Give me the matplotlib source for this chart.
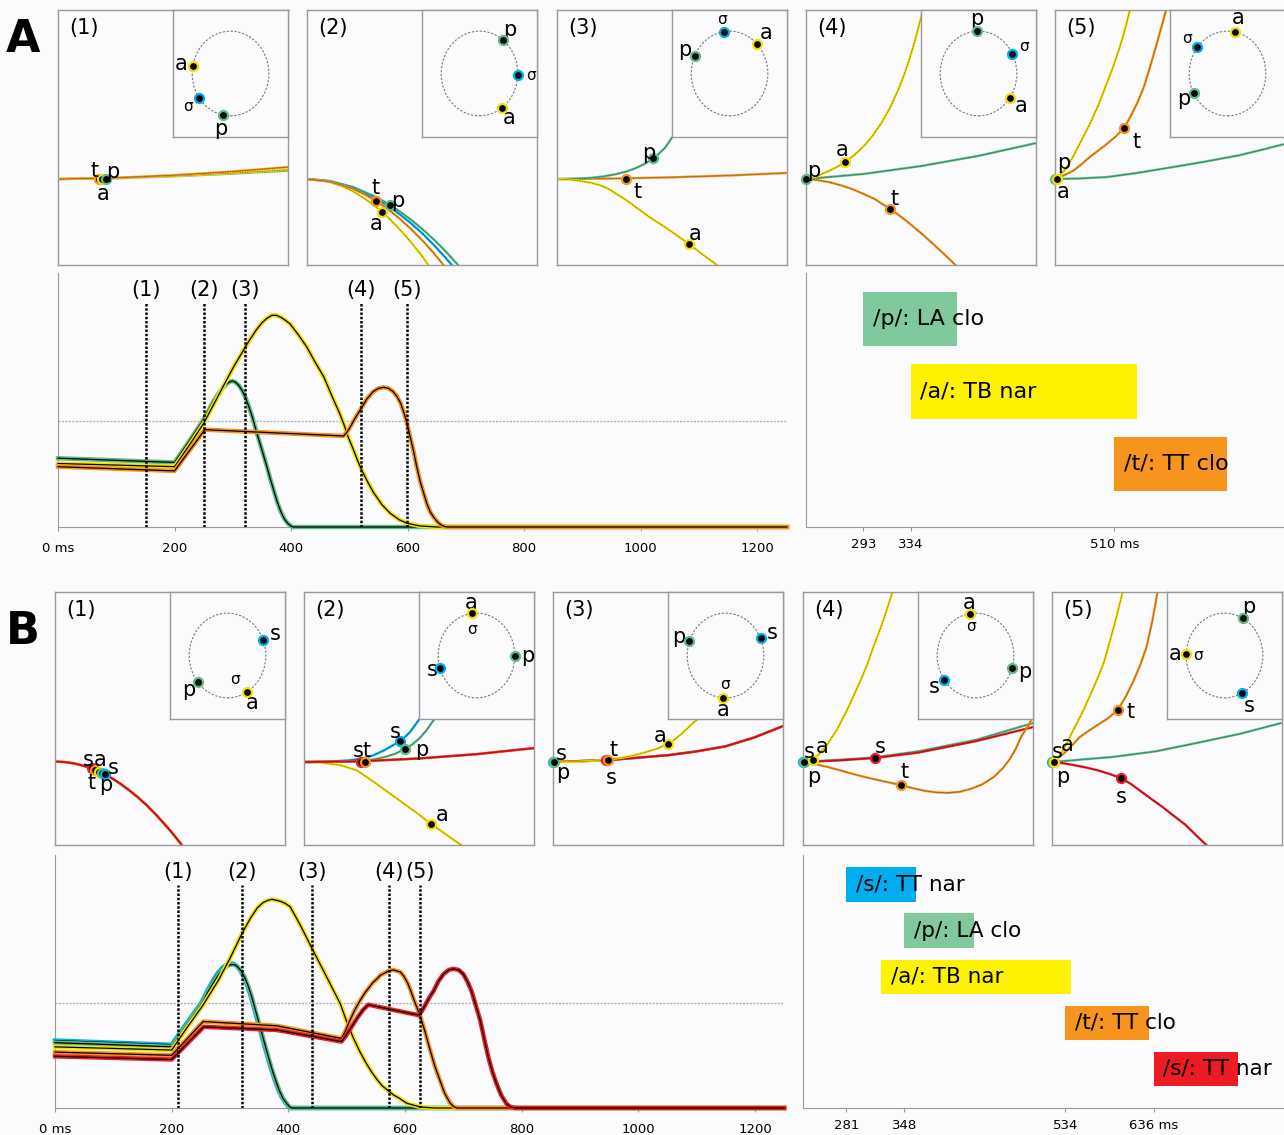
import matplotlib
matplotlib.use("Agg")
import matplotlib.pyplot as plt
import numpy as np
from matplotlib.patches import Circle

# ── Colours ──────────────────────────────────────────────────────
BG = "#fbfbfd"
EDGE = "#9a9a9a"
COL = {"p": "#5dbb88", "a": "#f2e000", "t": "#f7941d",
       "s1": "#00aeef", "s2": "#ed1c24", "sig": "#00aeef"}
BAR_COL = {"p": "#80c99d", "a": "#fff200", "t": "#f7941d",
           "s1": "#00aeef", "s2": "#ed1c24"}

# ── Activation traces (ms, activation) ───────────────────────────
ACT_TICKS = [0, 200, 400, 600, 800, 1000, 1200]
ACT_TICK_LABELS = ["0 ms", "200", "400", "600", "800", "1000", "1200"]
THRESH = 1.0

A_SNAPS = [151, 251, 321, 520, 599]
A_T_P = [0, 200, 225, 248, 258, 267, 275, 282, 289, 294, 299, 304, 310, 316, 322, 328, 334, 340, 346,
         352, 358, 364, 370, 376, 382, 388, 394, 400, 404, 1251]
A_V_P = [0.65, 0.61, 0.81, 1.00, 1.10, 1.19, 1.26, 1.31, 1.35, 1.37, 1.38, 1.37, 1.34, 1.29, 1.22, 1.13, 1.03, 0.91, 0.80,
         0.69, 0.58, 0.46, 0.35, 0.24, 0.15, 0.08, 0.035, 0.008, 0.0, 0.0]
A_T_A = [0, 200, 225, 250, 275, 300, 315, 328, 340, 350, 358, 367, 375, 383, 391, 398, 412, 427, 441, 456, 473,
         482, 490, 498, 507, 514, 521, 531, 541, 556, 570, 585, 599, 621, 650, 1251]
A_V_A = [0.60, 0.57, 0.77, 0.98, 1.24, 1.50, 1.64, 1.76, 1.86, 1.93, 1.97, 2.00, 2.00, 1.98, 1.95, 1.92, 1.82, 1.70, 1.56, 1.42, 1.20,
         1.09, 0.98, 0.85, 0.73, 0.63, 0.54, 0.43, 0.33, 0.21, 0.13, 0.07, 0.035, 0.01, 0.0, 0.0]
A_T_T = [0, 200, 252, 370, 490, 495, 500, 509, 518, 530, 541, 550, 559, 567, 575, 582, 588, 593, 598, 604, 610,
         616, 622, 628, 633, 639, 645, 651, 657, 663, 668, 1251]
A_V_T = [0.57, 0.53, 0.92, 0.89, 0.86, 0.89, 0.93, 1.02, 1.10, 1.21, 1.28, 1.31, 1.32, 1.31, 1.28, 1.23, 1.17, 1.09, 1.00, 0.86, 0.72,
         0.56, 0.42, 0.31, 0.22, 0.14, 0.09, 0.05, 0.02, 0.005, 0.0, 0.0]

B_SNAPS = [211, 321, 441, 572, 625]
B_T_S1 = [0, 200, 225, 251, 260, 270, 279, 287, 294, 300, 306, 311, 317, 323, 329, 335, 341, 347, 353, 359,
          365, 371, 377, 383, 389, 395, 400, 404, 1250]
B_V_S1 = [0.64, 0.60, 0.80, 1.00, 1.10, 1.20, 1.28, 1.33, 1.36, 1.37, 1.37, 1.35, 1.31, 1.25, 1.17, 1.07, 0.95, 0.83, 0.71, 0.59,
          0.47, 0.36, 0.26, 0.17, 0.10, 0.05, 0.015, 0.0, 0.0]
B_T_P = [0, 200, 225, 253, 262, 272, 281, 289, 296, 302, 308, 313, 319, 325, 331, 337, 343, 349, 355, 361,
         367, 373, 379, 385, 391, 397, 402, 406, 1250]
B_V_P = [0.62, 0.58, 0.78, 1.00, 1.10, 1.19, 1.27, 1.32, 1.35, 1.36, 1.36, 1.34, 1.30, 1.24, 1.16, 1.06, 0.94, 0.82, 0.70, 0.58,
         0.46, 0.35, 0.25, 0.16, 0.09, 0.045, 0.012, 0.0, 0.0]
B_T_A = [0, 200, 226, 253, 280, 300, 321, 335, 347, 357, 365, 372, 380, 387, 395, 403, 421, 440, 453, 466, 477,
         489, 500, 511, 523, 534, 543, 552, 561, 570, 580, 591, 603, 626, 650, 1250]
B_V_A = [0.58, 0.55, 0.76, 0.97, 1.21, 1.42, 1.66, 1.80, 1.90, 1.95, 1.97, 1.98, 1.97, 1.96, 1.94, 1.91, 1.73, 1.52, 1.38, 1.24, 1.12,
         0.99, 0.82, 0.67, 0.53, 0.42, 0.34, 0.27, 0.21, 0.17, 0.125, 0.09, 0.045, 0.01, 0.0, 0.0]
B_T_T = [0, 200, 254, 380, 491, 497, 503, 513, 523, 531, 538, 545, 551, 558, 565, 572, 580, 586, 592, 598, 605,
         610, 615, 620, 626, 634, 643, 651, 660, 668, 677, 683, 689, 1250]
B_V_T = [0.53, 0.50, 0.82, 0.78, 0.66, 0.72, 0.80, 0.92, 1.02, 1.09, 1.14, 1.19, 1.22, 1.26, 1.28, 1.30, 1.31, 1.30, 1.29, 1.25, 1.18,
         1.11, 1.03, 0.96, 0.87, 0.73, 0.55, 0.40, 0.26, 0.14, 0.05, 0.015, 0.0, 0.0]
B_T_S2 = [0, 200, 255, 380, 491, 498, 505, 513, 520, 528, 537, 580, 624, 630, 636, 642, 649, 657, 666, 675, 683,
          692, 700, 707, 714, 721, 729, 736, 743, 750, 757, 765, 774, 781, 789, 1250]
B_V_S2 = [0.49, 0.46, 0.77, 0.74, 0.63, 0.68, 0.74, 0.81, 0.87, 0.93, 0.98, 0.93, 0.88, 0.93, 0.99, 1.05, 1.11, 1.20, 1.27, 1.31, 1.32,
          1.31, 1.27, 1.20, 1.11, 0.98, 0.83, 0.65, 0.48, 0.34, 0.23, 0.12, 0.04, 0.01, 0.0, 0.0]

# ── Gestural scores (onset / offset in ms) ───────────────────────
A_BAR_KEYS = ["p", "a", "t"]
A_BAR_LABELS = ["/p/: LA clo", "/a/: TB nar", "/t/: TT clo"]
A_BAR_ON = [293, 334, 510]
A_BAR_OFF = [374, 530, 607]
A_BAR_TICKS = [293, 334, 510]
A_BAR_TICK_LABELS = ["293", "334", "510 ms"]

B_BAR_KEYS = ["s1", "p", "a", "t", "s2"]
B_BAR_LABELS = ["/s/: TT nar", "/p/: LA clo", "/a/: TB nar", "/t/: TT clo", "/s/: TT nar"]
B_BAR_ON = [281, 348, 321, 534, 636]
B_BAR_OFF = [362, 429, 540, 631, 733]
B_BAR_TICKS = [281, 348, 534, 636]
B_BAR_TICK_LABELS = ["281", "348", "534", "636 ms"]

# ── Snapshot panels: tract-variable trajectories (axes fraction) ─
A1_LINES = [("p", [0, 0.25, 0.5, 0.75, 1.0], [0.337, 0.340, 0.348, 0.358, 0.370]),
            ("a", [0, 0.25, 0.5, 0.75, 1.0], [0.337, 0.341, 0.349, 0.360, 0.373]),
            ("t", [0, 0.25, 0.5, 0.75, 1.0], [0.337, 0.342, 0.352, 0.366, 0.384])]
A1_DOTS = [("t", 0.178, 0.337), ("a", 0.191, 0.337), ("p", 0.209, 0.337)]
A1_TAGS = [("t", 0.16, 0.37), ("p", 0.24, 0.365), ("a", 0.196, 0.28)]
A1_PHASE = [("a", 170, "a", 1.3), ("sig", 215, "σ", 1.35), ("p", 259, "p", 1.33)]

A2_LINES = [("a", [0, 0.05, 0.1, 0.15, 0.2, 0.25, 0.3, 0.35, 0.4, 0.45, 0.5, 0.55, 0.6],
             [0.337, 0.334, 0.325, 0.310, 0.289, 0.261, 0.228, 0.189, 0.143, 0.092, 0.035, -0.03, -0.10]),
            ("p", [0, 0.1, 0.2, 0.3, 0.35, 0.4, 0.45, 0.5, 0.55, 0.6, 0.65, 0.7],
             [0.337, 0.329, 0.306, 0.267, 0.241, 0.212, 0.179, 0.142, 0.101, 0.056, 0.007, -0.045]),
            ("sig", [0, 0.1, 0.2, 0.3, 0.35, 0.4, 0.45, 0.5, 0.55, 0.6, 0.65, 0.7],
             [0.337, 0.329, 0.303, 0.260, 0.233, 0.201, 0.165, 0.125, 0.080, 0.031, -0.022, -0.08]),
            ("t", [0, 0.1, 0.2, 0.25, 0.3, 0.35, 0.4, 0.45, 0.5, 0.55, 0.6],
             [0.337, 0.327, 0.299, 0.277, 0.251, 0.220, 0.184, 0.143, 0.098, 0.048, -0.007])]
A2_DOTS = [("t", 0.30, 0.251), ("a", 0.326, 0.208), ("p", 0.361, 0.235)]
A2_TAGS = [("t", 0.30, 0.30), ("p", 0.395, 0.25), ("a", 0.30, 0.16)]
A2_PHASE = [("p", 52, "p", 1.3), ("sig", -2, "σ", 1.35), ("a", -54, "a", 1.3)]

A3_LINES = [("t", [0, 0.25, 0.5, 0.75, 1.0], [0.337, 0.339, 0.344, 0.351, 0.361]),
            ("p", [0, 0.1, 0.15, 0.2, 0.25, 0.3, 0.34, 0.38, 0.419, 0.44, 0.47, 0.5, 0.53, 0.56],
             [0.337, 0.339, 0.342, 0.347, 0.355, 0.366, 0.379, 0.396, 0.418, 0.434, 0.46, 0.50, 0.55, 0.61]),
            ("a", [0, 0.05, 0.1, 0.15, 0.19, 0.217, 0.26, 0.3, 0.35, 0.4, 0.45, 0.5, 0.574, 0.65, 0.696, 0.72],
             [0.337, 0.335, 0.33, 0.322, 0.312, 0.302, 0.278, 0.255, 0.222, 0.189, 0.16, 0.13, 0.082, 0.03, 0.0, -0.02])]
A3_DOTS = [("t", 0.30, 0.337), ("p", 0.419, 0.418), ("a", 0.574, 0.082)]
A3_TAGS = [("t", 0.35, 0.287), ("p", 0.397, 0.44), ("a", 0.60, 0.12)]
A3_PHASE = [("sig", 99, "σ", 1.3), ("a", 45, "a", 1.35), ("p", 155, "p", 1.3)]

A4_LINES = [("p", [0, 0.25, 0.5, 0.75, 1.0], [0.337, 0.357, 0.388, 0.428, 0.478]),
            ("t", [0, 0.05, 0.1, 0.15, 0.2, 0.25, 0.3, 0.365, 0.4, 0.45, 0.5, 0.55, 0.6, 0.65, 0.7],
             [0.337, 0.333, 0.325, 0.313, 0.298, 0.279, 0.258, 0.22, 0.198, 0.163, 0.125, 0.085, 0.043, 0.0, -0.045]),
            ("a", [0, 0.05, 0.1, 0.14, 0.17, 0.21, 0.25, 0.29, 0.33, 0.365, 0.4, 0.425, 0.45, 0.475, 0.5, 0.53],
             [0.337, 0.349, 0.369, 0.387, 0.404, 0.431, 0.465, 0.507, 0.56, 0.616, 0.685, 0.742, 0.808, 0.884, 0.97, 1.09])]
A4_DOTS = [("p", 0.0, 0.337), ("a", 0.17, 0.404), ("t", 0.365, 0.22)]
A4_TAGS = [("p", 0.035, 0.37), ("a", 0.157, 0.45), ("t", 0.387, 0.26)]
A4_PHASE = [("p", 92, "p", 1.3), ("sig", 28, "σ", 1.35), ("a", -35, "a", 1.35)]

A5_LINES = [("p", [0, 0.1, 0.226, 0.35, 0.513, 0.65, 0.8, 0.9, 1.0], [0.337, 0.339, 0.345, 0.36, 0.384, 0.405, 0.43, 0.452, 0.475]),
            ("t", [0, 0.04, 0.08, 0.115, 0.152, 0.19, 0.23, 0.265, 0.3, 0.33, 0.36, 0.387, 0.413, 0.44, 0.465, 0.483, 0.5],
             [0.337, 0.352, 0.37, 0.395, 0.424, 0.45, 0.478, 0.505, 0.537, 0.585, 0.64, 0.70, 0.776, 0.86, 0.94, 1.0, 1.06]),
            ("a", [0, 0.02, 0.04, 0.06, 0.078, 0.11, 0.15, 0.19, 0.226, 0.25, 0.28, 0.3, 0.326, 0.35],
             [0.337, 0.35, 0.37, 0.395, 0.424, 0.48, 0.55, 0.63, 0.714, 0.77, 0.85, 0.91, 1.0, 1.08])]
A5_DOTS = [("p", 0.0, 0.337), ("a", 0.008, 0.337), ("t", 0.30, 0.537)]
A5_TAGS = [("p", 0.036, 0.40), ("a", 0.036, 0.285), ("t", 0.355, 0.484)]
A5_PHASE = [("a", 78, "a", 1.35), ("sig", 142, "σ", 1.35), ("p", 208, "p", 1.3)]

B1_X = [0, 0.04, 0.08, 0.12, 0.16, 0.2, 0.24, 0.28, 0.32, 0.36, 0.40, 0.44, 0.48, 0.52, 0.56]
B1_Y = [0.330, 0.328, 0.323, 0.314, 0.303, 0.287, 0.268, 0.245, 0.218, 0.189, 0.156, 0.119, 0.079, 0.036, -0.01]
B1_LINES = [("a", B1_X, B1_Y), ("t", B1_X, B1_Y), ("s2", B1_X, B1_Y)]
B1_DOTS = [("s2", 0.16, 0.303), ("t", 0.175, 0.296), ("a", 0.191, 0.289), ("p", 0.204, 0.284), ("s1", 0.217, 0.279)]
B1_TAGS = [("s", 0.145, 0.336), ("a", 0.196, 0.336), ("s", 0.254, 0.303), ("t", 0.16, 0.244), ("p", 0.222, 0.237)]
B1_PHASE = [("s1", 22, "s", 1.33), ("p", 219, "p", 1.3), ("a", 300, "a", 1.3), (None, 290, "σ", 0.6)]

B2_FLAT_X = [0, 0.25, 0.5, 0.75, 1.0]
B2_FLAT_Y = [0.328, 0.331, 0.342, 0.359, 0.383]
B2_LINES = [("a", [0, 0.08, 0.16, 0.228, 0.3, 0.4, 0.5, 0.554, 0.62, 0.683, 0.72],
             [0.328, 0.325, 0.315, 0.296, 0.252, 0.186, 0.12, 0.082, 0.04, 0.0, -0.025]),
            ("p", [0, 0.15, 0.22, 0.27, 0.32, 0.36, 0.40, 0.437, 0.47, 0.5, 0.53, 0.567, 0.6],
             [0.328, 0.329, 0.331, 0.334, 0.341, 0.35, 0.362, 0.379, 0.397, 0.42, 0.45, 0.498, 0.55]),
            ("s1", [0, 0.1, 0.2, 0.25, 0.3, 0.35, 0.39, 0.416, 0.44, 0.46, 0.48, 0.502, 0.525, 0.55],
             [0.328, 0.329, 0.335, 0.341, 0.354, 0.375, 0.396, 0.411, 0.428, 0.445, 0.47, 0.498, 0.53, 0.57]),
            ("t", B2_FLAT_X, B2_FLAT_Y), ("s2", B2_FLAT_X, B2_FLAT_Y)]
B2_DOTS = [("s2", 0.247, 0.329), ("t", 0.264, 0.330), ("s1", 0.416, 0.411), ("p", 0.437, 0.379), ("a", 0.554, 0.082)]
B2_TAGS = [("s", 0.235, 0.37), ("t", 0.274, 0.37), ("s", 0.398, 0.448), ("p", 0.514, 0.376), ("a", 0.60, 0.119)]
B2_PHASE = [("a", 97, "a", 1.25), ("p", 0, "p", 1.33), ("s1", 197, "s", 1.2), (None, 102, "σ", 0.62)]

B3_FLAT_X = [0, 0.25, 0.5, 0.625, 0.75, 0.875, 1.0]
B3_FLAT_Y = [0.328, 0.336, 0.355, 0.37, 0.39, 0.425, 0.47]
B3_LINES = [("p", B3_FLAT_X, B3_FLAT_Y), ("t", B3_FLAT_X, B3_FLAT_Y), ("s2", B3_FLAT_X, B3_FLAT_Y),
            ("a", [0, 0.1, 0.15, 0.2, 0.25, 0.3, 0.35, 0.4, 0.45, 0.5, 0.53, 0.56, 0.6, 0.63, 0.66, 0.68],
             [0.328, 0.329, 0.331, 0.334, 0.339, 0.345, 0.354, 0.366, 0.38, 0.40, 0.418, 0.44, 0.475, 0.498, 0.53, 0.56])]
B3_DOTS = [("s1", 0.0, 0.328), ("p", 0.005, 0.328), ("s2", 0.23, 0.336), ("t", 0.24, 0.337), ("a", 0.50, 0.40)]
B3_TAGS = [("s", 0.035, 0.36), ("p", 0.043, 0.285), ("t", 0.265, 0.375), ("s", 0.252, 0.265), ("a", 0.465, 0.43)]
B3_PHASE = [("p", 160, "p", 1.3), ("s1", 24, "s", 1.33), ("a", 267, "a", 1.3), (None, 268, "σ", 0.68)]

B4_LINES = [("p", [0, 0.3, 0.5, 0.75, 1.0], [0.328, 0.345, 0.37, 0.415, 0.482]),
            ("s2", [0, 0.15, 0.314, 0.5, 0.75, 1.0], [0.328, 0.334, 0.344, 0.365, 0.41, 0.466]),
            ("t", [0, 0.05, 0.1, 0.15, 0.2, 0.25, 0.3, 0.36, 0.424, 0.48, 0.53, 0.58, 0.629, 0.68, 0.73, 0.78,
                   0.83, 0.87, 0.9, 0.925, 0.948, 0.975, 1.0, 1.03],
             [0.328, 0.32, 0.31, 0.298, 0.285, 0.273, 0.262, 0.25, 0.237, 0.224, 0.214, 0.208, 0.206, 0.21, 0.222, 0.24,
              0.269, 0.305, 0.34, 0.38, 0.427, 0.465, 0.506, 0.56]),
            ("a", [0, 0.02, 0.044, 0.07, 0.1, 0.125, 0.15, 0.17, 0.192, 0.22, 0.25, 0.28, 0.306, 0.33, 0.35, 0.37, 0.389, 0.4],
             [0.328, 0.33, 0.338, 0.36, 0.39, 0.425, 0.46, 0.495, 0.534, 0.59, 0.65, 0.715, 0.783, 0.84, 0.89, 0.945, 1.0, 1.04])]
B4_DOTS = [("s1", 0.0, 0.328), ("p", 0.004, 0.328), ("a", 0.044, 0.336), ("s2", 0.314, 0.344), ("t", 0.424, 0.237)]
B4_TAGS = [("s", 0.027, 0.369), ("a", 0.082, 0.389), ("p", 0.045, 0.27), ("s", 0.335, 0.389), ("t", 0.443, 0.29)]
B4_PHASE = [("a", 98, "a", 1.25), ("p", -17, "p", 1.33), ("s1", 215, "s", 1.3), (None, 100, "σ", 0.7)]

B5_LINES = [("p", [0, 0.264, 0.45, 0.628, 0.82, 0.996], [0.328, 0.348, 0.37, 0.403, 0.44, 0.482]),
            ("s2", [0, 0.05, 0.1, 0.15, 0.2, 0.25, 0.299, 0.345, 0.39, 0.435, 0.481, 0.53, 0.58, 0.625, 0.671, 0.7],
             [0.328, 0.323, 0.315, 0.306, 0.295, 0.281, 0.265, 0.24, 0.21, 0.18, 0.15, 0.115, 0.08, 0.04, 0.0, -0.025]),
            ("t", [0, 0.025, 0.05, 0.085, 0.121, 0.16, 0.2, 0.245, 0.286, 0.32, 0.355, 0.385, 0.411, 0.435, 0.459, 0.47],
             [0.328, 0.343, 0.36, 0.392, 0.427, 0.452, 0.475, 0.502, 0.534, 0.585, 0.65, 0.715, 0.783, 0.88, 1.0, 1.05]),
            ("a", [0, 0.015, 0.03, 0.047, 0.065, 0.09, 0.13, 0.16, 0.195, 0.225, 0.25, 0.28, 0.307, 0.32],
             [0.328, 0.336, 0.35, 0.372, 0.403, 0.45, 0.52, 0.58, 0.652, 0.72, 0.8, 0.9, 1.0, 1.05])]
B5_DOTS = [("s1", 0.0, 0.328), ("p", 0.004, 0.328), ("a", 0.01, 0.33), ("t", 0.286, 0.534), ("s2", 0.299, 0.265)]
B5_TAGS = [("s", 0.022, 0.368), ("a", 0.065, 0.395), ("p", 0.048, 0.27), ("t", 0.342, 0.526), ("s", 0.299, 0.19)]
B5_PHASE = [("p", 61, "p", 1.3), ("a", 178, "a", 1.3), ("s1", -62, "s", 1.35), (None, 180, "σ", 0.7)]

# ── Figure ───────────────────────────────────────────────────────
W, H = 1284, 1135
fig = plt.figure(figsize=(W / 100, H / 100), dpi=100, facecolor=BG)


def px_axes(x0, y0, x1, y1):
    """Axes from a pixel box, y measured from the top."""
    ax = fig.add_axes([x0 / W, 1 - y1 / H, (x1 - x0) / W, (y1 - y0) / H])
    ax.set_facecolor(BG)
    return ax


def plain(ax):
    ax.set_xticks([])
    ax.set_yticks([])
    for sp in ax.spines.values():
        sp.set_color(EDGE)
        sp.set_linewidth(1.0)


def snapshot(x0, top, h, num, lines, dots, tags, phase):
    ax = px_axes(x0, top, x0 + 230, top + h)
    ax.set_xlim(0, 1)
    ax.set_ylim(0, 1)
    plain(ax)
    for key, xs, ys in lines:
        ax.plot(xs, ys, color=COL[key], lw=1.7, solid_capstyle="round", solid_joinstyle="round")
        ax.plot(xs, ys, color="k", lw=0.45, ls=(0, (1.5, 1.2)), alpha=0.7)
    for key, x, y in dots:
        ax.plot(x, y, "o", ms=6.5, mfc="k", mec=COL[key], mew=1.6, zorder=5, clip_on=False)
    for txt, x, y in tags:
        ax.text(x, y, txt, fontsize=15, ha="center", va="center", zorder=6)
    ax.text(0.05, 0.93, f"({num})", fontsize=15, va="center")

    ins = px_axes(x0 + 115, top, x0 + 230, top + 127)
    ins.set_xlim(-1.5, 1.5)
    ins.set_ylim(-1.5, 1.5)
    plain(ins)
    ins.add_patch(Circle((0, 0), 1, fill=False, ec="#777777", lw=0.8, ls=(0, (2, 1.5))))
    for key, ang, txt, r in phase:
        c, s = np.cos(np.radians(ang)), np.sin(np.radians(ang))
        if key:
            ins.plot(c, s, "o", ms=6.5, mfc="k", mec=COL[key], mew=1.6, zorder=5)
        ins.text(r * c, r * s, txt, fontsize=11 if txt == "σ" else 15,
                 ha="center", va="center")


def activation(box, xmax, curves, snaps):
    ax = px_axes(*box)
    ax.set_xlim(0, xmax)
    ax.set_ylim(0, 2.4)
    for side in ("top", "right"):
        ax.spines[side].set_visible(False)
    for side in ("left", "bottom"):
        ax.spines[side].set_color(EDGE)
    ax.set_yticks([])
    ax.set_xticks(ACT_TICKS)
    ax.set_xticklabels(ACT_TICK_LABELS, fontsize=9.5)
    ax.tick_params(axis="x", length=3, color=EDGE, pad=8)
    ax.axhline(THRESH, color="#b0b0b0", lw=1, ls=(0, (1.5, 1)))
    for key, t, v in curves:
        ax.plot(t, v, color=COL[key], lw=3.2, clip_on=False, zorder=3,
                solid_joinstyle="round")
        ax.plot(t, v, color="k", lw=0.9, clip_on=False, zorder=3, solid_joinstyle="round")
    ax.vlines(snaps, 0, 2.12, colors="k", lw=1.8, linestyles=(0, (1, 0.7)), zorder=4)
    for i, s in enumerate(snaps, 1):
        ax.text(s, 2.24, f"({i})", fontsize=15, ha="center", va="center")


def score(box, xlim, ylim, keys, labels, on, off, ticks, tick_labels, fs):
    bx = px_axes(*box)
    rows = list(range(len(keys), 0, -1))
    bx.barh(rows, [f - o for o, f in zip(on, off)], left=on, height=0.75,
            color=[BAR_COL[k] for k in keys])
    for lab, o, r in zip(labels, on, rows):
        bx.annotate(lab, (o, r), xytext=(7, 0), textcoords="offset points",
                    va="center", fontsize=fs)
    bx.set_xlim(*xlim)
    bx.set_ylim(*ylim)
    for side in ("top", "right"):
        bx.spines[side].set_visible(False)
    for side in ("left", "bottom"):
        bx.spines[side].set_color(EDGE)
    bx.set_yticks([])
    bx.set_xticks(ticks)
    bx.set_xticklabels(tick_labels, fontsize=9.5)
    bx.tick_params(axis="x", length=3, color=EDGE, pad=5)


# ── A: /pat/ ─────────────────────────────────────────────────────
A_PANELS = [(A1_LINES, A1_DOTS, A1_TAGS, A1_PHASE), (A2_LINES, A2_DOTS, A2_TAGS, A2_PHASE),
            (A3_LINES, A3_DOTS, A3_TAGS, A3_PHASE), (A4_LINES, A4_DOTS, A4_TAGS, A4_PHASE),
            (A5_LINES, A5_DOTS, A5_TAGS, A5_PHASE)]
for i, (x0, panel) in enumerate(zip([58, 307, 557, 806, 1055], A_PANELS), 1):
    snapshot(x0, 10, 255, i, *panel)

activation((58, 273, 787, 527), 1251,
           [("p", A_T_P, A_V_P), ("a", A_T_A, A_V_A), ("t", A_T_T, A_V_T)], A_SNAPS)
score((806, 273, 1284, 527), (243.5, 656.7), (0.131, 3.634),
      A_BAR_KEYS, A_BAR_LABELS, A_BAR_ON, A_BAR_OFF, A_BAR_TICKS, A_BAR_TICK_LABELS, 16)

# ── B: /spats/ ───────────────────────────────────────────────────
B_PANELS = [(B1_LINES, B1_DOTS, B1_TAGS, B1_PHASE), (B2_LINES, B2_DOTS, B2_TAGS, B2_PHASE),
            (B3_LINES, B3_DOTS, B3_TAGS, B3_PHASE), (B4_LINES, B4_DOTS, B4_TAGS, B4_PHASE),
            (B5_LINES, B5_DOTS, B5_TAGS, B5_PHASE)]
for i, (x0, panel) in enumerate(zip([55, 304, 553, 803, 1052], B_PANELS), 1):
    snapshot(x0, 592, 253, i, *panel)

activation((55, 855, 783, 1108), 1248,
           [("s1", B_T_S1, B_V_S1), ("p", B_T_P, B_V_P), ("a", B_T_A, B_V_A),
            ("t", B_T_T, B_V_T), ("s2", B_T_S2, B_V_S2)], B_SNAPS)
score((803, 855, 1284, 1108), (231, 786.5), (0.154, 5.642),
      B_BAR_KEYS, B_BAR_LABELS, B_BAR_ON, B_BAR_OFF, B_BAR_TICKS, B_BAR_TICK_LABELS, 15.5)

fig.text(23 / W, 1 - 39 / H, "A", fontsize=32, fontweight="heavy", ha="center", va="center")
fig.text(23 / W, 1 - 632 / H, "B", fontsize=32, fontweight="heavy", ha="center", va="center")

fig.savefig("out.png", dpi=100, facecolor=BG)
